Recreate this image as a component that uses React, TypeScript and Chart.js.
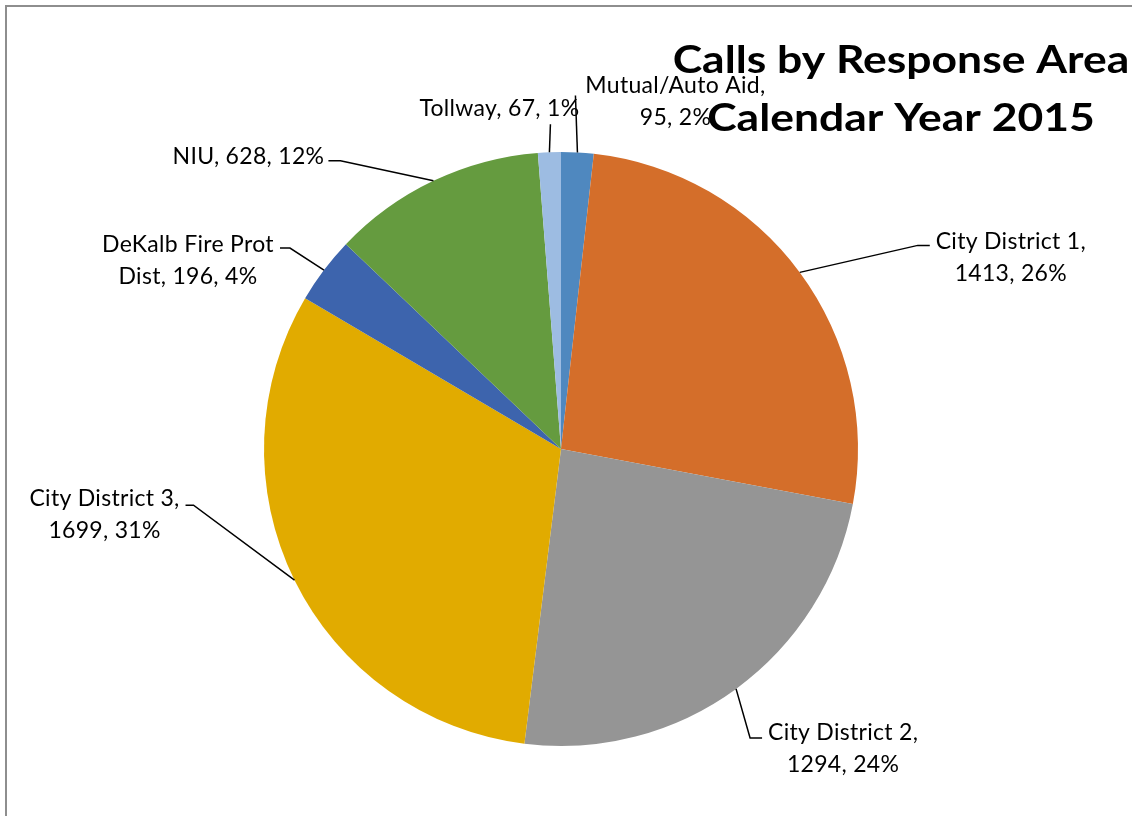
import React, { useEffect, useRef } from "react";
import { Chart, registerables } from "chart.js";

Chart.register(...registerables);

const categories = [
  "Mutual/Auto Aid",
  "City District 1",
  "City District 2",
  "City District 3",
  "DeKalb Fire Prot Dist",
  "NIU",
  "Tollway",
];
const calls = [95, 1413, 1294, 1699, 196, 628, 67];
const percentLabels = [2, 26, 24, 31, 4, 12, 1];
const titleLines = ["Calls by Response Area", "Calendar Year 2015"];

const sliceColors = ["#4F88BF", "#D46E2A", "#959595", "#E1AB00", "#3D64AD", "#659B3F", "#9DBCE2"];

// label layout: offsets relative to the slice's outer-edge midpoint
const labelLayout = [
  { dx: 98, dy: -67, align: "center", breakAt: 2, leader: [[-2, -57]] },
  { dx: 211, dy: -31, align: "center", breakAt: 3, leader: [[118, -27], [130, -27]] },
  { dx: 107, dy: 44, align: "center", breakAt: 3, leader: [[14, 49], [26, 49]] },
  { dx: -190, dy: -82, align: "center", breakAt: 3, leader: [[-101, -75], [-109, -75]] },
  { dx: -136, dy: -25, align: "center", breakAt: 3, leader: [[-34, -22], [-44, -22]] },
  { dx: -185, dy: -24, align: "center", breakAt: 0, leader: [[-93, -20], [-105, -20]] },
  { dx: -50, dy: -44, align: "center", breakAt: 0, leader: [[1, -28]] },
];

const LABEL_FONT = '23px Lato, "Open Sans", sans-serif';
const TITLE_FONT = 'bold 38px Lato, "Open Sans", sans-serif';

const labelPlugin = {
  id: "pieLabels",
  afterDraw(chart: any) {
    const ctx = chart.ctx as CanvasRenderingContext2D;
    // frame
    ctx.save();
    ctx.strokeStyle = "#8E8E8E";
    ctx.lineWidth = 2;
    ctx.beginPath();
    ctx.moveTo(6, chart.height + 5);
    ctx.lineTo(6, 6);
    ctx.lineTo(chart.width + 5, 6);
    ctx.stroke();
    ctx.restore();

    const meta = chart.getDatasetMeta(0);
    meta.data.forEach((arc: any, i: number) => {
      const p = arc.getProps(["x", "y", "startAngle", "endAngle", "outerRadius"], true);
      const mid = (p.startAngle + p.endAngle) / 2;
      const ex = p.x + Math.cos(mid) * p.outerRadius;
      const ey = p.y + Math.sin(mid) * p.outerRadius;
      const L = labelLayout[i];
      ctx.save();
      const words = `${categories[i]}, ${calls[i]}, ${percentLabels[i]}%`.split(" ");
      const lines = L.breakAt
        ? [words.slice(0, L.breakAt).join(" "), words.slice(L.breakAt).join(" ")]
        : [words.join(" ")];
      ctx.font = LABEL_FONT;
      (ctx as any).letterSpacing = "0.3px";
      ctx.fillStyle = "#000";
      ctx.textAlign = L.align as CanvasTextAlign;
      ctx.textBaseline = "middle";
      lines.forEach((ln, k) => ctx.fillText(ln, ex + L.dx, ey + L.dy + k * 32));
      ctx.strokeStyle = "#000";
      ctx.lineWidth = 1.5;
      ctx.beginPath();
      ctx.moveTo(ex, ey);
      L.leader.forEach(([dx, dy]) => ctx.lineTo(ex + dx, ey + dy));
      ctx.stroke();
      ctx.restore();
    });

    // title
    ctx.save();
    ctx.font = TITLE_FONT;
    ctx.fillStyle = "#000";
    ctx.textAlign = "center";
    ctx.textBaseline = "alphabetic";
    ctx.translate(901, 0);
    ctx.scale(1.17, 1);
    titleLines.forEach((t, k) => ctx.fillText(t, 0, 73 + k * 58));
    ctx.restore();
  },
};

export default function App() {
  const ref = useRef<HTMLCanvasElement | null>(null);
  useEffect(() => {
    if (!ref.current) return;
    const chart = new Chart(ref.current, {
      type: "pie",
      data: {
        labels: categories,
        datasets: [
          {
            data: calls,
            backgroundColor: sliceColors,
            borderWidth: 0,
          },
        ],
      },
      options: {
        responsive: false,
        animation: false,
        layout: { padding: { left: 264, right: 274, top: 152, bottom: 70 } },
        plugins: {
          legend: { display: false },
          tooltip: { enabled: false },
          title: { display: false },
        },
      },
      plugins: [labelPlugin],
    });
    return () => chart.destroy();
  }, []);
  return (
    <div
      style={{
        position: "absolute",
        left: 0,
        top: 0,
        width: 1132,
        height: 816,
        overflow: "hidden",
        background: "#fff",
      }}
    >
      <canvas ref={ref} width={1132} height={816} style={{ display: "block" }} />
    </div>
  );
}
